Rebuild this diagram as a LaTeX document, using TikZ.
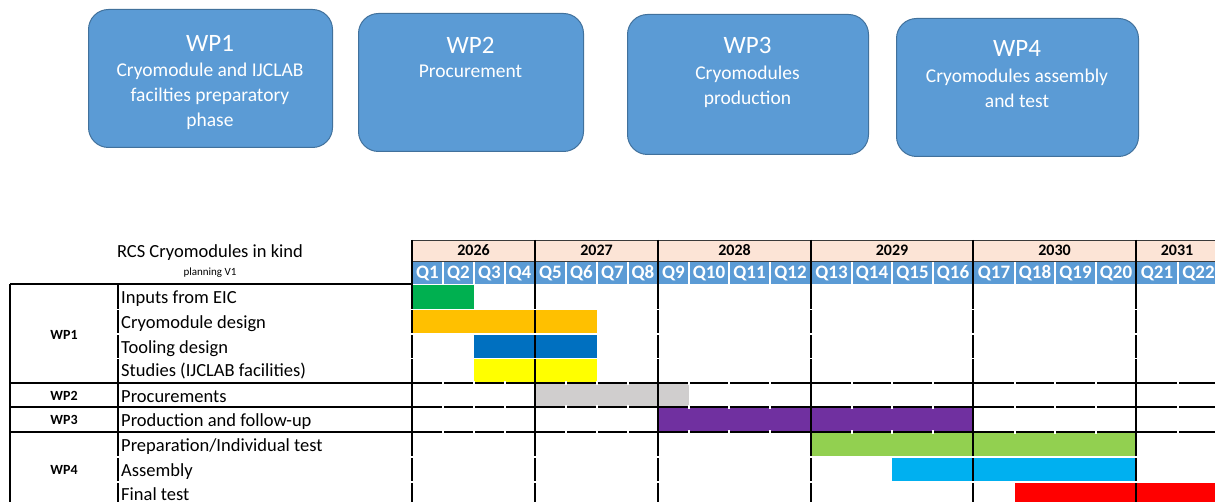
\documentclass[tikz,border=0pt]{standalone}
\usepackage{fontspec}
\setmainfont{Carlito}
\definecolor{boxblue}{HTML}{5B9BD5}
\definecolor{boxedge}{HTML}{41719C}
\definecolor{yearfill}{HTML}{FCE4D6}
\definecolor{qblue}{HTML}{5B9BD5}
\definecolor{barEIC}{HTML}{00B050}
\definecolor{barCryo}{HTML}{FFC000}
\definecolor{barTool}{HTML}{0070C0}
\definecolor{barStud}{HTML}{FFFF00}
\definecolor{barProc}{HTML}{D0CECE}
\definecolor{barProd}{HTML}{7030A0}
\definecolor{barPrep}{HTML}{92D050}
\definecolor{barAsm}{HTML}{00B0F0}
\definecolor{barFin}{HTML}{FF0000}
\definecolor{gridgrey}{HTML}{3A3A3A}

% quarter boundaries (x positions)
\def\qlist{{412,443,474,505,535,566,597,628,658,689,729,770,811,852,892,933,973,1015,1055,1096,1136,1178,1219}}
% a bar from boundary #2 to boundary #3 between heights #4 and #5
\newcommand\ganttbar[5]{%
  \pgfmathsetmacro\barxa{\qlist[#2]}%
  \pgfmathsetmacro\barxb{\qlist[#3]}%
  \fill[#1] (\barxa,#4) rectangle (\barxb,#5);}

\tikzset{
  wpbox/.style={draw=boxedge, line width=1pt, fill=boxblue, rounded corners=20pt, inner sep=0pt, anchor=north west},
  wptitle/.style={text=white, inner sep=0pt, font=\fontsize{25}{30}\selectfont},
  wpbody/.style={text=white, inner sep=0pt, align=center, font=\fontsize{19.5}{25}\selectfont, anchor=north},
  yearlbl/.style={inner sep=0pt, font=\bfseries\fontsize{16}{18}\selectfont},
  qlbl/.style={inner sep=0pt, text=white, font=\bfseries\fontsize{19}{20}\selectfont},
  rowlbl/.style={inner sep=0pt, anchor=base west, font=\fontsize{18.5}{20}\selectfont},
  wplbl/.style={inner sep=0pt, font=\bfseries\fontsize{14}{16}\selectfont},
  blackline/.style={draw=black, line width=1.3pt},
  thinline/.style={draw=gridgrey, line width=0.8pt},
  gap/.style={draw=white, line width=1.6pt},
}

\begin{document}
\begin{tikzpicture}[x=1pt,y=-1pt]
\useasboundingbox (0,0) rectangle (1215,502);
\fill[white] (0,0) rectangle (1215,502);

% ---- work package boxes ----
\node[wpbox, minimum width=244pt, minimum height=138pt] (wp1) at (88,9) {};
\node[wptitle] (wp1title) at (210,43) {WP1};
\node[wpbody] (wp1body) at (210,63) {Cryomodule and IJCLAB\\facilties preparatory\\phase};

\node[wpbox, minimum width=225pt, minimum height=138pt] (wp2) at (358,13) {};
\node[wptitle] (wp2title) at (470.5,45) {WP2};
\node[wpbody] (wp2body) at (470.5,65) {Procurement};

\node[wpbox, minimum width=241pt, minimum height=140pt] (wp3) at (627,14) {};
\node[wptitle] (wp3title) at (747.5,45) {WP3};
\node[wpbody] (wp3body) at (747.5,66) {Cryomodules\\production};

\node[wpbox, minimum width=242pt, minimum height=138pt] (wp4) at (896,18) {};
\node[wptitle] (wp4title) at (1017,48) {WP4};
\node[wpbody] (wp4body) at (1017,69) {Cryomodules assembly\\and test};

% ---- planning title ----
\node[inner sep=0pt, font=\fontsize{18.5}{20}\selectfont] (ptitle) at (210,252.5) {RCS Cryomodules in kind};
\node[inner sep=0pt, font=\fontsize{11}{12}\selectfont] (pversion) at (210,272.5) {planning V1};

% ---- calendar header ----
\fill[yearfill] (412,240) rectangle (1215,261);
\fill[qblue] (412,261) rectangle (1215,284);
\draw[thinline] (412,240) -- (1215,240);
\draw[thinline] (412,261) -- (1215,261);
\foreach \i in {1,2,3,5,6,7,9,10,11,13,14,15,17,18,19,21}{
  \pgfmathsetmacro\gx{\qlist[\i]}
  \draw[gap, line width=2pt] (\gx,262) -- (\gx,284);
}
\node[yearlbl] (y2026) at (473.5,250.5) {2026};
\node[yearlbl] (y2027) at (596.5,250.5) {2027};
\node[yearlbl] (y2028) at (734.5,250.5) {2028};
\node[yearlbl] (y2029) at (892,250.5) {2029};
\node[yearlbl] (y2030) at (1054.5,250.5) {2030};
\node[yearlbl] (y2031) at (1177,250.5) {2031};
\foreach \i in {1,...,22}{
  \pgfmathsetmacro\qa{\qlist[\i-1]}
  \pgfmathsetmacro\qb{\qlist[\i]}
  \node[qlbl] (q\i) at ({(\qa+\qb)/2},273) {Q\i};
}

% ---- bars ----
\ganttbar{barEIC}{0}{2}{285}{309}
\ganttbar{barCryo}{0}{6}{310}{333}
\ganttbar{barTool}{2}{6}{335}{358}
\ganttbar{barStud}{2}{6}{359}{382}
\ganttbar{barProc}{4}{9}{384}{407}
\ganttbar{barProd}{8}{16}{408}{432}
\ganttbar{barPrep}{12}{20}{432}{456}
\ganttbar{barAsm}{14}{20}{458}{481}
\fill[barFin] (1015,483) rectangle (1215,502);

% ---- grid ----
\draw[blackline] (10,284) -- (412,284);
\foreach \y in {383,407,432}{
  \draw[blackline] (10,\y) -- (1215,\y);
}
\draw[blackline] (10,284) -- (10,502);
\draw[blackline] (118,284) -- (118,502);
\foreach \x in {412,535,658,811,973,1136}{
  \draw[blackline] (\x,240) -- (\x,502);
}
% white breaks at quarter boundaries and inner row boundaries
\foreach \i in {1,2,3,5,6,7,9,10,11,13,14,15,17,18,19,21}{
  \pgfmathsetmacro\gx{\qlist[\i]}
  \foreach \y in {383,407,432}{
    \draw[gap] (\gx,\y-2) -- (\gx,\y+2);
  }
}
\foreach \x in {118,412,535,658,811,973,1136}{
  \foreach \y in {309.5,334,358.5,457,482}{
    \draw[gap] (\x-2,\y) -- (\x+2,\y);
  }
}

% ---- task labels ----
\node[rowlbl] (t1) at (121,304) {Inputs from EIC};
\node[rowlbl] (t2) at (121,328.5) {Cryomodule design};
\node[rowlbl] (t3) at (121,353) {Tooling design};
\node[rowlbl] (t4) at (121,377) {Studies (IJCLAB facilities)};
\node[rowlbl] (t5) at (121,402) {Procurements};
\node[rowlbl] (t6) at (121,426) {Production and follow-up};
\node[rowlbl] (t7) at (121,451) {Preparation/Individual test};
\node[rowlbl] (t8) at (121,476) {Assembly};
\node[rowlbl] (t9) at (121,500) {Final test};

\node[wplbl] (g1) at (64,334.5) {WP1};
\node[wplbl] (g2) at (64,395.5) {WP2};
\node[wplbl] (g3) at (64,420) {WP3};
\node[wplbl] (g4) at (64,470) {WP4};
\end{tikzpicture}
\end{document}
